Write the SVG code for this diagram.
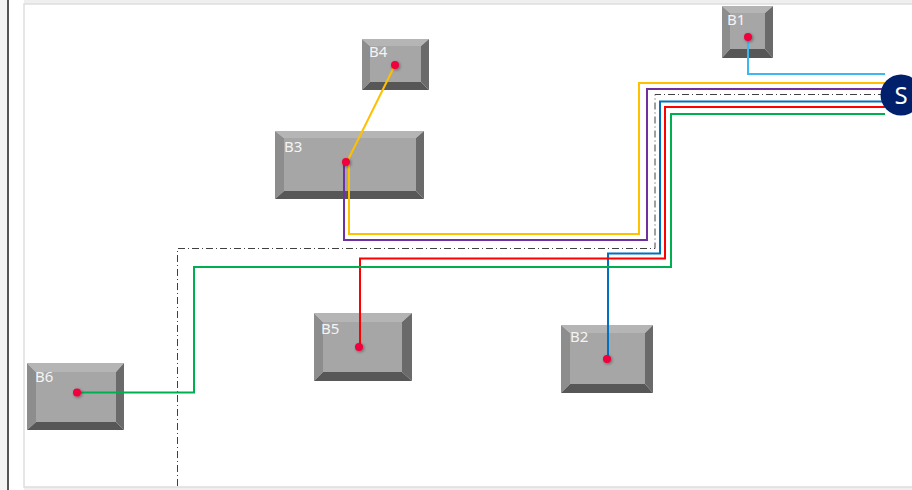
<svg xmlns="http://www.w3.org/2000/svg" width="912" height="490" viewBox="0 0 912 490">
<defs>
<style>
.lbl{font-family:"Noto Sans","Open Sans",sans-serif;font-size:15px;fill:#f4f4f4}
.t{fill:#b5b5b5}.l{fill:#8d8d8d}.r{fill:#6a6a6a}.b{fill:#575757}.f{fill:#a6a6a6}
.dot{fill:#f0003c}
.c{fill:none;stroke-width:2;stroke-linejoin:miter}
</style>
<filter id="sh" x="-1" y="-1" width="3" height="3"><feGaussianBlur in="SourceAlpha" stdDeviation="1.5"/><feOffset dx="1" dy="1"/><feComponentTransfer><feFuncA type="linear" slope="0.4"/></feComponentTransfer><feMerge><feMergeNode/><feMergeNode in="SourceGraphic"/></feMerge></filter>
</defs>
<rect width="912" height="490" fill="#efefef"/>
<rect x="0" y="0" width="7" height="490" fill="#f3f3f3"/>
<rect x="7" y="0" width="2" height="490" fill="#555"/>
<rect x="9" y="0" width="15" height="490" fill="#fff"/>
<rect x="24" y="4" width="890" height="483" fill="#fff" stroke="#dedede" stroke-width="1.5"/>

<g id="B1">
<polygon class="t" points="722,6 773,6 765,13 730,13"/>
<polygon class="l" points="722,6 730,13 730,49 722,58"/>
<polygon class="r" points="773,6 773,58 765,49 765,13"/>
<polygon class="b" points="722,58 730,49 765,49 773,58"/>
<rect class="f" x="730" y="13" width="35" height="36"/>
<text class="lbl" x="727" y="25">B1</text>
</g>

<g id="B4">
<polygon class="t" points="362,39 429,39 421,46 370,46"/>
<polygon class="l" points="362,39 370,46 370,82 362,90"/>
<polygon class="r" points="429,39 429,90 421,82 421,46"/>
<polygon class="b" points="362,90 370,82 421,82 429,90"/>
<rect class="f" x="370" y="46" width="51" height="36"/>
<text class="lbl" x="369" y="57">B4</text>
</g>

<g id="B3">
<polygon class="t" points="275,131 424,131 416,138 284,138"/>
<polygon class="l" points="275,131 284,138 284,191 275,199"/>
<polygon class="r" points="424,131 424,199 416,191 416,138"/>
<polygon class="b" points="275,199 284,191 416,191 424,199"/>
<rect class="f" x="284" y="138" width="132" height="53"/>
<text class="lbl" x="284" y="152">B3</text>
</g>

<g id="B5">
<polygon class="t" points="314,313 412,313 402,322 323,322"/>
<polygon class="l" points="314,313 323,322 323,372 314,381"/>
<polygon class="r" points="412,313 412,381 402,372 402,322"/>
<polygon class="b" points="314,381 323,372 402,372 412,381"/>
<rect class="f" x="323" y="322" width="79" height="50"/>
<text class="lbl" x="321" y="334">B5</text>
</g>

<g id="B2">
<polygon class="t" points="561,325 653,325 645,333 570,333"/>
<polygon class="l" points="561,325 570,333 570,384 561,393"/>
<polygon class="r" points="653,325 653,393 645,384 645,333"/>
<polygon class="b" points="561,393 570,384 645,384 653,393"/>
<rect class="f" x="570" y="333" width="75" height="51"/>
<text class="lbl" x="570" y="342">B2</text>
</g>

<g id="B6">
<polygon class="t" points="27,363 124,363 116,372 36,372"/>
<polygon class="l" points="27,363 36,372 36,422 27,430"/>
<polygon class="r" points="124,363 124,430 116,422 116,372"/>
<polygon class="b" points="27,430 36,422 116,422 124,430"/>
<rect class="f" x="36" y="372" width="80" height="50"/>
<text class="lbl" x="35" y="382">B6</text>
</g>

<g id="connectors">
<path class="c" d="M748,37 V74 H885" stroke="#3cb7ef" stroke-width="1.2"/>
<path class="c" d="M395,65 L349,158 V234 H639 V83 H885" stroke="#ffc000"/>
<path class="c" d="M345,162 H344 V240 H647 V89 H885" stroke="#7030a0"/>
<path d="M885,94.5 H655 V248.5 H177.5 V487" fill="none" stroke="#404040" stroke-width="1" stroke-dasharray="7 3 1 3"/>
<path class="c" d="M885,101.5 H660 V253.5 H608 V359" stroke="#0070c0"/>
<path class="c" d="M885,107 H665 V258.5 H360 V347" stroke="#ff0000"/>
<path class="c" d="M885,114 H671 V267 H194 V392.5 H77" stroke="#00b050"/>
</g>

<g id="ports">
<circle class="dot" cx="748" cy="37" r="4" filter="url(#sh)"/>
<circle class="dot" cx="395" cy="65" r="4" filter="url(#sh)"/>
<circle class="dot" cx="346" cy="162" r="4" filter="url(#sh)"/>
<circle class="dot" cx="359" cy="347" r="4" filter="url(#sh)"/>
<circle class="dot" cx="607" cy="359" r="4" filter="url(#sh)"/>
<circle class="dot" cx="77" cy="392.5" r="4" filter="url(#sh)"/>
</g>

<g id="S">
<circle cx="901" cy="95" r="20.5" fill="#00206b"/>
<text x="901" y="103.5" text-anchor="middle" font-family="Noto Sans, Open Sans, sans-serif" font-size="24" fill="#fff">S</text>
</g>
</svg>
